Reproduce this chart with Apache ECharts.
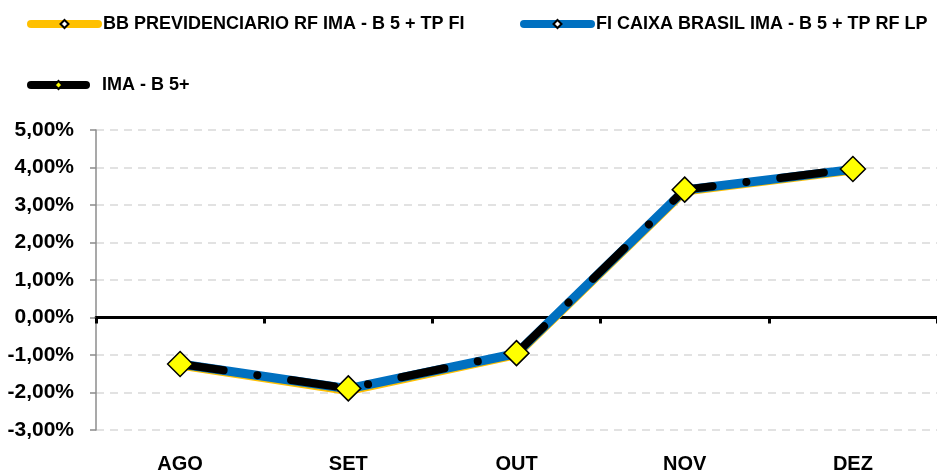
<!DOCTYPE html>
<html>
<head>
<meta charset="utf-8">
<script src="https://cdn.jsdelivr.net/npm/echarts@6/dist/echarts.min.js"></script>
<style>
  html, body { margin: 0; padding: 0; background: #fff; }
  #chart { width: 937px; height: 475px; }
</style>
</head>
<body>
<div id="chart"></div>
<script>
const months = ['AGO', 'SET', 'OUT', 'NOV', 'DEZ']
const bbPrev = [-1.27, -1.95, -0.99, 3.37, 3.93]
const caixa = [-1.24, -1.9, -0.96, 3.4, 3.95]
const imaB5 = [-1.24, -1.89, -0.95, 3.41, 3.96]
const yTicks = { min: -3, max: 5, step: 1 }

const names = [
  'BB PREVIDENCIARIO RF IMA - B 5 + TP FI',
  'FI CAIXA BRASIL IMA - B 5 + TP RF LP',
  'IMA - B 5+'
]

const font = 'Liberation Sans, Arial, sans-serif'
const legendText = { fontFamily: font, fontWeight: 'bold', fontSize: 18, color: '#000' }
const legendLine = { type: 'solid', cap: 'round', width: 8 }

function legendItem(name, padLeft) {
  return { name: name, textStyle: Object.assign({ padding: [0, 0, 0, padLeft] }, legendText) }
}

const chart = echarts.init(document.getElementById('chart'))
chart.setOption({
  animation: false,
  legend: [
    {
      data: [legendItem(names[0], 0)], left: 22, top: 10, itemWidth: 67, itemHeight: 10,
      textStyle: legendText, selectedMode: false, lineStyle: legendLine
    },
    {
      data: [legendItem(names[1], 0)], left: 515, top: 10, itemWidth: 67, itemHeight: 10,
      textStyle: legendText, selectedMode: false, lineStyle: legendLine
    },
    {
      // icon do IMA é mais curto, texto alinhado com os outros
      data: [legendItem(names[2], 11)], left: 22, top: 71, itemWidth: 55, itemHeight: 10,
      textStyle: legendText, selectedMode: false, lineStyle: legendLine
    }
  ],
  grid: { left: 96, right: 0, top: 130, bottom: 45 },
  xAxis: [
    {
      type: 'category',
      data: months,
      position: 'bottom',
      axisLine: { show: false, onZero: false },
      axisTick: { show: false },
      axisLabel: { fontFamily: font, fontWeight: 'bold', fontSize: 20, color: '#000', margin: 24 }
    },
    {
      type: 'category',
      data: months,
      position: 'bottom',
      axisLine: { show: true, onZero: true, lineStyle: { color: '#000', width: 3 } },
      axisTick: { show: true, length: 6, lineStyle: { color: '#000', width: 3 } },
      axisLabel: { show: false }
    }
  ],
  yAxis: {
    type: 'value',
    min: yTicks.min,
    max: yTicks.max,
    interval: yTicks.step,
    axisLine: { show: true, onZero: false, lineStyle: { color: '#8c8c8c', width: 1.5 } },
    axisTick: { show: true, length: 6, lineStyle: { color: '#8c8c8c', width: 1.5 } },
    splitLine: { lineStyle: { color: '#d9d9d9', width: 1.5, type: [8, 6] } },
    axisLabel: {
      fontFamily: font, fontWeight: 'bold', fontSize: 21, color: '#000', margin: 22,
      formatter: v => v.toFixed(2).replace('.', ',') + '%'
    }
  },
  series: [
    {
      name: names[0],
      type: 'line',
      data: bbPrev,
      symbol: 'diamond',
      symbolSize: 9,
      itemStyle: { color: '#fff', borderColor: '#000', borderWidth: 1.5 },
      lineStyle: { color: '#FFC000', width: 9, cap: 'round', join: 'round' },
      z: 2
    },
    {
      name: names[1],
      type: 'line',
      data: caixa,
      symbol: 'diamond',
      symbolSize: 9,
      itemStyle: { color: '#fff', borderColor: '#000', borderWidth: 1.5 },
      lineStyle: { color: '#0070C0', width: 9, cap: 'round', join: 'round' },
      z: 3
    },
    {
      name: names[2],
      type: 'line',
      data: imaB5,
      symbol: 'diamond',
      symbolSize: 25,
      itemStyle: { color: '#FFFF00', borderColor: '#000', borderWidth: 1.5 },
      lineStyle: { color: '#000', width: 8, cap: 'round', join: 'round', type: [44, 34, 0.1, 34] },
      z: 4
    }
  ]
})
</script>
</body>
</html>
